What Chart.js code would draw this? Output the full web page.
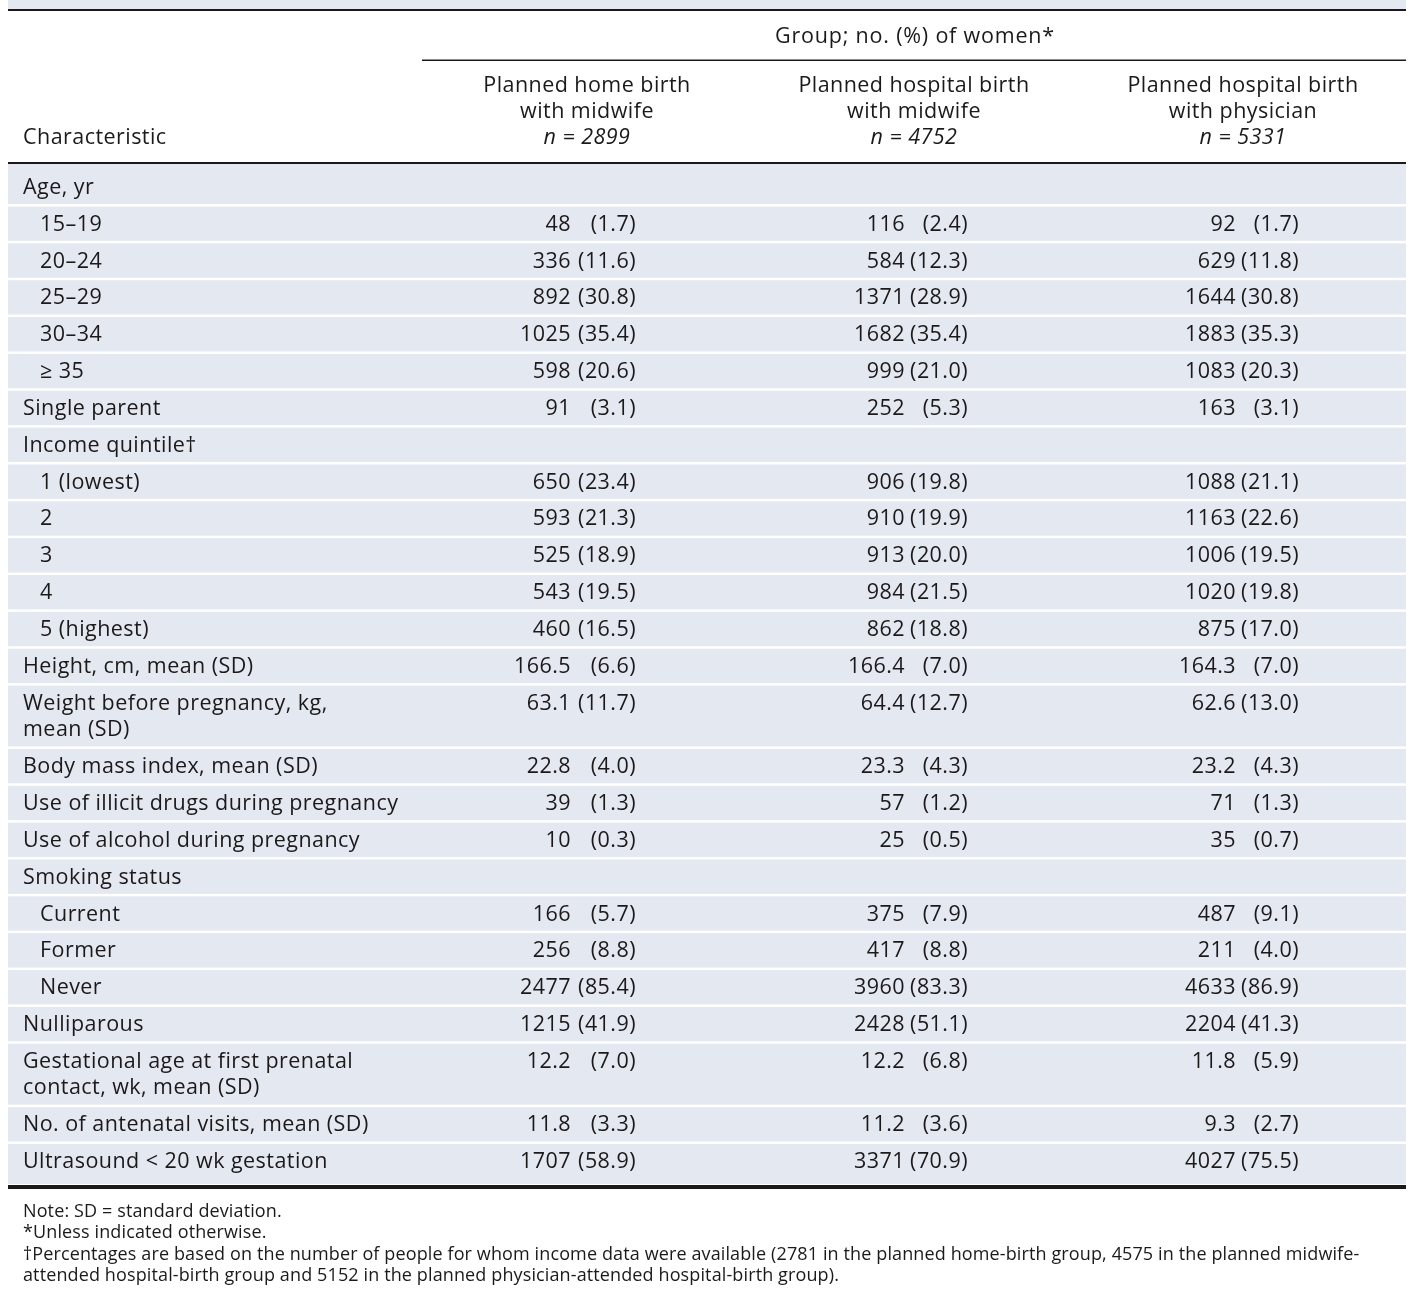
<!DOCTYPE html>
<html>
<head>
<meta charset="utf-8">
<script src="https://cdn.jsdelivr.net/npm/chart.js@4.4.1/dist/chart.umd.min.js"></script>
<style>
  html, body { margin: 0; padding: 0; background: #ffffff; }
  .chart-container { position: relative; width: 1416px; height: 1294px; }
</style>
</head>
<body>
<div class="chart-container"><canvas id="chart"></canvas></div>
<script>
// --- Data ---
const characteristics = [
    'Age, yr', '15–19', '20–24', '25–29', '30–34', '≥ 35',
    'Single parent',
    'Income quintile†', '1 (lowest)', '2', '3', '4', '5 (highest)',
    'Height, cm, mean (SD)',
    'Weight before pregnancy, kg,\nmean (SD)',
    'Body mass index, mean (SD)',
    'Use of illicit drugs during pregnancy',
    'Use of alcohol during pregnancy',
    'Smoking status', 'Current', 'Former', 'Never',
    'Nulliparous',
    'Gestational age at first prenatal\ncontact, wk, mean (SD)',
    'No. of antenatal visits, mean (SD)',
    'Ultrasound < 20 wk gestation'
];
const indented = [0, 1, 1, 1, 1, 1, 0, 0, 1, 1, 1, 1, 1, 0, 0, 0, 0, 0, 0, 1, 1, 1, 0, 0, 0, 0];

const groupTitles = [
    ['Planned home birth', 'with midwife'],
    ['Planned hospital birth', 'with midwife'],
    ['Planned hospital birth', 'with physician']
];
const groupSizes = [2899, 4752, 5331];

// no. (or mean) per group, null for heading rows
const homeMidwifeValues = [null, 48, 336, 892, 1025, 598, 91, null, 650, 593, 525, 543, 460,
    166.5, 63.1, 22.8, 39, 10, null, 166, 256, 2477, 1215, 12.2, 11.8, 1707];
const homeMidwifePct = [null, 1.7, 11.6, 30.8, 35.4, 20.6, 3.1, null, 23.4, 21.3, 18.9, 19.5, 16.5,
    6.6, 11.7, 4.0, 1.3, 0.3, null, 5.7, 8.8, 85.4, 41.9, 7.0, 3.3, 58.9];

const hospMidwifeValues = [null, 116, 584, 1371, 1682, 999, 252, null, 906, 910, 913, 984, 862,
    166.4, 64.4, 23.3, 57, 25, null, 375, 417, 3960, 2428, 12.2, 11.2, 3371];
const hospMidwifePct = [null, 2.4, 12.3, 28.9, 35.4, 21.0, 5.3, null, 19.8, 19.9, 20.0, 21.5, 18.8,
    7.0, 12.7, 4.3, 1.2, 0.5, null, 7.9, 8.8, 83.3, 51.1, 6.8, 3.6, 70.9];

const hospPhysicianValues = [null, 92, 629, 1644, 1883, 1083, 163, null, 1088, 1163, 1006, 1020, 875,
    164.3, 62.6, 23.2, 71, 35, null, 487, 211, 4633, 2204, 11.8, 9.3, 4027];
const hospPhysicianPct = [null, 1.7, 11.8, 30.8, 35.3, 20.3, 3.1, null, 21.1, 22.6, 19.5, 19.8, 17.0,
    7.0, 13.0, 4.3, 1.3, 0.7, null, 9.1, 4.0, 86.9, 41.3, 5.9, 2.7, 75.5];

const notes = [
    'Note: SD = standard deviation.',
    '*Unless indicated otherwise.',
    '†Percentages are based on the number of people for whom income data were available (2781 in the planned home-birth group, 4575 in the planned midwife-',
    'attended hospital-birth group and 5152 in the planned physician-attended hospital-birth group).'
];

// --- Layout / style ---
const FONT = '"Open Sans", "Noto Sans", sans-serif';
const BODY_FONT = `21.5px ${FONT}`;
const TEXT = '#1c191a';
const BAND = '#e4e8f1';
const LINE_EXTRA = 0.72;       // second text line, in row units
const COUNT_RIGHT = [571, 905, 1236];
const PCT_RIGHT = [636, 968, 1299];
const HEAD_CENTER = [587, 914, 1243];

let pos = 0;
const rowPos = characteristics.map(label => {
    const p = pos;
    pos += 1 + LINE_EXTRA * (label.split('\n').length - 1);
    return p;
});
const lastPos = rowPos[rowPos.length - 1];

const groups = [
    { values: homeMidwifeValues, pct: homeMidwifePct },
    { values: hospMidwifeValues, pct: hospMidwifePct },
    { values: hospPhysicianValues, pct: hospPhysicianPct }
];

const tablePlugin = {
    id: 'tablePlugin',
    beforeDatasetsDraw(chart) {
        const { ctx, chartArea: a, scales: { x, y } } = chart;
        const left = x.getPixelForValue(8), right = x.getPixelForValue(1406);
        ctx.save();
        ctx.fillStyle = BAND;
        ctx.fillRect(left, 0, right - left, 9);
        ctx.fillRect(left, a.top, right - left, a.bottom - a.top);
        ctx.fillStyle = TEXT;
        ctx.fillRect(left, 9, right - left, 2);
        ctx.fillRect(x.getPixelForValue(422), 59.5, right - x.getPixelForValue(422), 1.5);
        ctx.fillRect(left, a.top - 2, right - left, 2);
        ctx.fillRect(left, a.bottom + 1, right - left, 4);
        // white separators between rows
        ctx.fillStyle = '#ffffff';
        for (let i = 0; i < rowPos.length - 1; i++) {
            const lines = characteristics[i].split('\n').length;
            const mid = (rowPos[i] + LINE_EXTRA * (lines - 1) + rowPos[i + 1]) / 2;
            ctx.fillRect(left, y.getPixelForValue(mid) - 1.25, right - left, 2.5);
        }
        ctx.restore();
    },
    afterDatasetsDraw(chart) {
        const { ctx, scales: { x, y } } = chart;
        const lineH = y.getPixelForValue(LINE_EXTRA) - y.getPixelForValue(0);
        ctx.save();
        ctx.fillStyle = TEXT;
        ctx.textBaseline = 'alphabetic';
        ctx.letterSpacing = '0.45px';
        ctx.font = BODY_FONT;

        // header
        ctx.textAlign = 'center';
        ctx.letterSpacing = '0.8px';
        ctx.fillText('Group; no. (%) of women*', x.getPixelForValue(915), 43);
        ctx.letterSpacing = '0.45px';
        groupTitles.forEach((t, g) => {
            const cx = x.getPixelForValue(HEAD_CENTER[g]);
            ctx.font = BODY_FONT;
            ctx.fillText(t[0], cx, 92);
            ctx.fillText(t[1], cx, 118);
            ctx.font = `italic ${BODY_FONT}`;
            ctx.fillText(`n = ${groupSizes[g]}`, cx, 144);
        });
        ctx.font = BODY_FONT;
        ctx.textAlign = 'left';
        ctx.fillText('Characteristic', x.getPixelForValue(23), 144);

        // body rows
        characteristics.forEach((label, i) => {
            const base = y.getPixelForValue(rowPos[i]) + 7;
            ctx.textAlign = 'left';
            label.split('\n').forEach((line, k) => {
                ctx.fillText(line, x.getPixelForValue(indented[i] ? 40 : 23), base + k * lineH);
            });
            const isMean = label.includes('mean (SD)');
            groups.forEach((grp, g) => {
                if (grp.values[i] === null) return;
                ctx.textAlign = 'right';
                ctx.fillText(isMean ? grp.values[i].toFixed(1) : String(grp.values[i]), x.getPixelForValue(COUNT_RIGHT[g]), base);
                ctx.fillText(`(${grp.pct[i].toFixed(1)})`, x.getPixelForValue(PCT_RIGHT[g]), base);
            });
        });

        // notes
        ctx.textAlign = 'left';
        ctx.font = `18px ${FONT}`;
        ctx.letterSpacing = '0.12px';
        notes.forEach((n, k) => ctx.fillText(n, x.getPixelForValue(23), 1217 + k * 21.3));
        ctx.restore();
    }
};

const ctx = document.getElementById('chart').getContext('2d');
const myChart = new Chart(ctx, {
    type: 'scatter',
    data: {
        datasets: groups.map((grp, g) => ({
            label: groupTitles[g].join(' '),
            data: grp.values.map((v, i) => v === null ? null : { x: COUNT_RIGHT[g], y: rowPos[i] }).filter(d => d),
            pointRadius: 0
        }))
    },
    options: {
        responsive: true, maintainAspectRatio: false, animation: false,
        layout: { padding: { top: 164, bottom: 110, left: 0, right: 0 } },
        plugins: { legend: { display: false }, tooltip: { enabled: false } },
        scales: {
            x: { type: 'linear', display: false, min: 0, max: 1416 },
            y: { type: 'linear', display: false, reverse: true, min: -0.62, max: lastPos + 0.62 }
        }
    },
    plugins: [tablePlugin]
});
</script>
</body>
</html>
